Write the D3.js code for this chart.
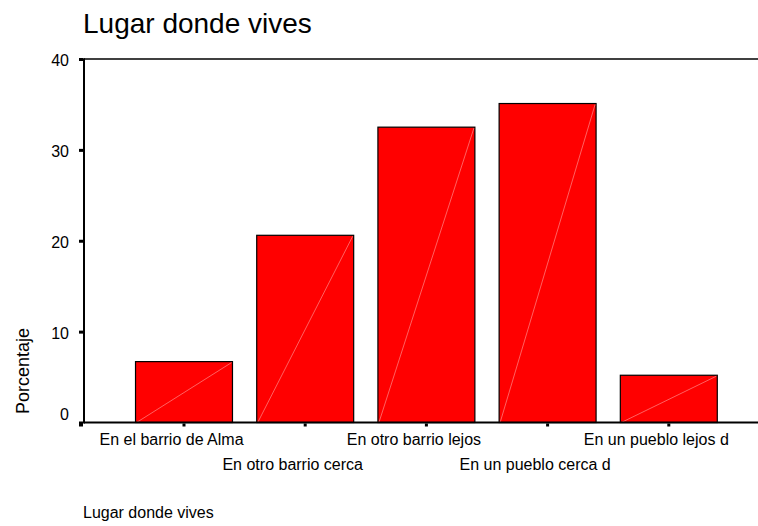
<!DOCTYPE html>
<html>
<head>
<meta charset="utf-8">
<script src="https://cdn.jsdelivr.net/npm/d3@7/dist/d3.min.js"></script>
<style>
  html, body { margin: 0; padding: 0; background: #fff; }
  svg { display: block; font-family: "Liberation Sans", Arial, sans-serif; }
</style>
</head>
<body>
<svg id="chart" width="758" height="526"></svg>
<script>
const categories = [
  "En el barrio de Alma",
  "En otro barrio cerca",
  "En otro barrio lejos",
  "En un pueblo cerca d",
  "En un pueblo lejos d"
];
const percentages = [6.7, 20.6, 32.5, 35.1, 5.2];
const yTicks = [0, 10, 20, 30, 40];
const titleText = "Lugar donde vives";
const xTitleText = "Lugar donde vives";
const yTitleText = "Porcentaje";

const W = 758, H = 526;
const plot = { left: 84, right: 758, top: 59, bottom: 422.5 };

const svg = d3.select("#chart");

const x = d3.scaleBand()
  .domain(categories)
  .range([123.4, 729.4])
  .paddingInner(0.2)
  .paddingOuter(0.1);

const y = d3.scaleLinear()
  .domain([0, 40])
  .range([plot.bottom, plot.top]);

// Title
svg.append("text")
  .attr("x", 83)
  .attr("y", 33)
  .attr("font-size", 28)
  .attr("fill", "#000")
  .text(titleText);

// Bars
const bars = svg.append("g");
categories.forEach((c, i) => {
  const x0 = x(c), bw = x.bandwidth();
  const yt = y(percentages[i]), yb = y(0);
  bars.append("rect")
    .attr("x", x0)
    .attr("y", yt)
    .attr("width", bw)
    .attr("height", yb - yt)
    .attr("fill", "#ff0000")
    .attr("stroke", "#000")
    .attr("stroke-width", 1.2);
  bars.append("line")
    .attr("x1", x0 + 1).attr("y1", yb)
    .attr("x2", x0 + bw - 1).attr("y2", yt + 1)
    .attr("stroke", "#ff8a8a")
    .attr("stroke-width", 0.7);
});

// Top frame line
svg.append("line")
  .attr("x1", plot.left).attr("x2", plot.right)
  .attr("y1", plot.top).attr("y2", plot.top)
  .attr("stroke", "#000").attr("stroke-width", 1.6);

// Y axis
const yAxis = d3.axisLeft(y).tickValues(yTicks).tickSize(0).tickPadding(15);
const gy = svg.append("g").attr("transform", `translate(${plot.left},0)`).call(yAxis);
gy.select(".domain").remove();
gy.selectAll("text")
  .attr("font-size", 16)
  .attr("font-family", "Liberation Sans, Arial, sans-serif")
  .attr("fill", "#000")
  .attr("dy", d => d === 0 ? "-0.2em" : "0.4em");
gy.selectAll(".tick").append("rect")
  .attr("x", -5).attr("y", -1.5).attr("width", 4).attr("height", 3).attr("fill", "#000");
svg.append("line")
  .attr("x1", plot.left).attr("x2", plot.left)
  .attr("y1", plot.top - 0.8).attr("y2", plot.bottom + 1)
  .attr("stroke", "#000").attr("stroke-width", 2);

// X axis
const xAxis = d3.axisBottom(x).tickSize(0).tickPadding(0);
const gx = svg.append("g").attr("transform", `translate(0,${plot.bottom})`).call(xAxis);
gx.select(".domain").remove();
gx.selectAll(".tick").append("rect")
  .attr("x", -1.5).attr("y", 1).attr("width", 3).attr("height", 3).attr("fill", "#000");
gx.selectAll("text")
  .attr("font-size", 16)
  .attr("font-family", "Liberation Sans, Arial, sans-serif")
  .attr("fill", "#000")
  .attr("dx", -12.5)
  .attr("dy", 0)
  .attr("y", (d, i) => i % 2 === 0 ? 22.5 : 47.5);
svg.append("rect")
  .attr("x", plot.left - 5).attr("y", plot.bottom + 1).attr("width", 4).attr("height", 3).attr("fill", "#000");
svg.append("line")
  .attr("x1", plot.left).attr("x2", plot.right)
  .attr("y1", plot.bottom).attr("y2", plot.bottom)
  .attr("stroke", "#000").attr("stroke-width", 2);

// Axis titles
svg.append("text")
  .attr("transform", `translate(29,371) rotate(-90)`)
  .attr("text-anchor", "middle")
  .attr("font-size", 18)
  .attr("fill", "#000")
  .text(yTitleText);

svg.append("text")
  .attr("x", 83)
  .attr("y", 518)
  .attr("font-size", 16)
  .attr("fill", "#000")
  .text(xTitleText);
</script>
</body>
</html>
